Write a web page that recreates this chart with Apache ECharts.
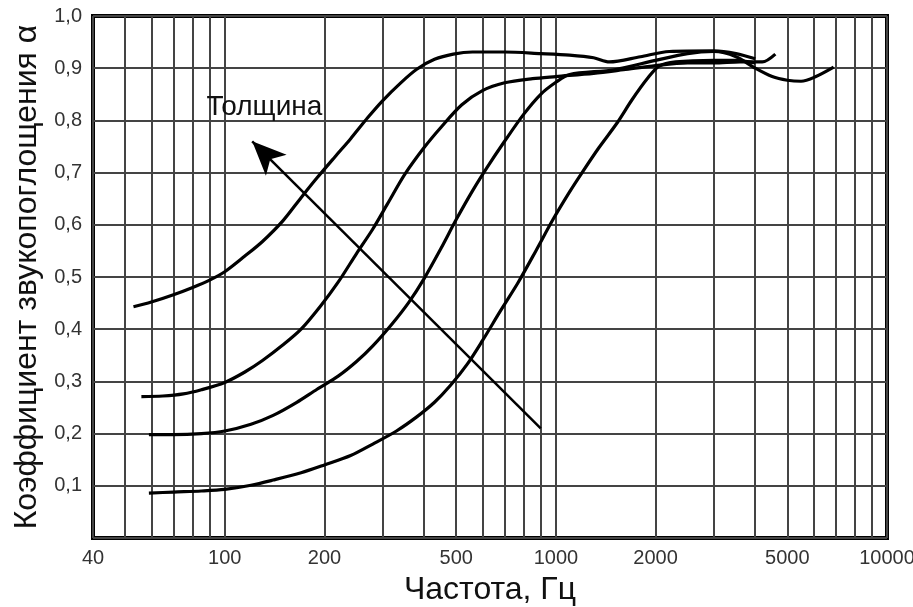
<!DOCTYPE html>
<html>
<head>
<meta charset="utf-8">
<script src="https://cdn.jsdelivr.net/npm/echarts@6/dist/echarts.min.js"></script>
<style>
  html, body { margin: 0; padding: 0; background: #fff; }
  #chart { width: 913px; height: 607px; }
</style>
</head>
<body>
<div id="chart"></div>
<script>
// частоты (Гц) и коэффициенты звукопоглощения
var freqA = [53, 60, 70, 80, 90, 100, 115, 130, 150, 170, 190, 215, 240, 270, 300, 340, 380, 430, 490, 560, 700, 900, 1100, 1300, 1450, 1800, 2200, 3000, 3500, 4000];
var alphaA = [0.443, 0.452, 0.466, 0.48, 0.494, 0.51, 0.54, 0.568, 0.608, 0.652, 0.69, 0.73, 0.765, 0.805, 0.838, 0.872, 0.898, 0.917, 0.927, 0.931, 0.931, 0.928, 0.925, 0.92, 0.912, 0.922, 0.932, 0.933, 0.928, 0.918];

var freqB = [56, 65, 75, 85, 100, 115, 130, 150, 170, 195, 220, 250, 280, 310, 350, 400, 450, 520, 600, 700, 850, 1000, 1300, 1600, 2000, 2500, 3000, 3600, 4200, 4600];
var alphaB = [0.271, 0.272, 0.276, 0.284, 0.298, 0.318, 0.34, 0.37, 0.40, 0.445, 0.49, 0.545, 0.592, 0.64, 0.697, 0.748, 0.787, 0.83, 0.857, 0.872, 0.88, 0.884, 0.89, 0.897, 0.905, 0.91, 0.91, 0.912, 0.912, 0.927];

var freqC = [59, 70, 85, 100, 120, 140, 165, 190, 220, 250, 280, 320, 360, 400, 450, 500, 560, 620, 700, 800, 900, 1000, 1100, 1500, 2000, 2500, 3000, 3500, 4000, 4500, 5000, 5500, 6100, 6900];
var alphaC = [0.198, 0.198, 0.2, 0.205, 0.218, 0.235, 0.26, 0.285, 0.31, 0.338, 0.368, 0.41, 0.452, 0.497, 0.555, 0.61, 0.665, 0.71, 0.76, 0.812, 0.85, 0.873, 0.888, 0.897, 0.915, 0.928, 0.932, 0.922, 0.9, 0.884, 0.877, 0.875, 0.884, 0.902];

var freqD = [59, 70, 85, 100, 120, 140, 170, 200, 240, 280, 330, 380, 430, 480, 540, 600, 680, 770, 870, 980, 1100, 1200, 1350, 1530, 1700, 1900, 2050, 2300, 3000, 3500, 4000];
var alphaD = [0.086, 0.088, 0.09, 0.093, 0.101, 0.111, 0.125, 0.14, 0.158, 0.18, 0.205, 0.232, 0.26, 0.292, 0.333, 0.378, 0.435, 0.49, 0.55, 0.61, 0.663, 0.70, 0.748, 0.795, 0.84, 0.882, 0.904, 0.912, 0.915, 0.915, 0.91];

// подписи и линии сетки по оси частот
var freqLabels = [40, 100, 200, 500, 1000, 2000, 5000, 10000];
var freqGrid = [40, 50, 60, 70, 80, 90, 100, 200, 300, 400, 500, 600, 700, 800, 900,
  1000, 2000, 3000, 4000, 5000, 6000, 7000, 8000, 9000, 10000];

// стрелка "Толщина": [частота, α] хвоста и острия, место подписи
var arrowTail = [900, 0.21];
var arrowHead = [121, 0.76];
var noteAt = [88, 0.825];

var FONT = '"Liberation Sans", Arial, sans-serif';

function zip(xs, ys) {
  return xs.map(function (x, i) { return [x, ys[i]]; });
}

function curve(xs, ys) {
  return {
    type: 'line',
    data: zip(xs, ys),
    showSymbol: false,
    smooth: 0.3,
    silent: true,
    lineStyle: { color: '#000', width: 3.2 },
    z: 5
  };
}

var chart = echarts.init(document.getElementById('chart'));

var seriesA = curve(freqA, alphaA);
seriesA.markLine = {
  silent: true,
  symbol: ['none', 'arrow'],
  symbolSize: [22, 34],
  label: { show: false },
  lineStyle: { color: '#000', width: 2.5, type: 'solid' },
  data: [[{ coord: arrowTail }, { coord: arrowHead }]]
};
seriesA.markPoint = {
  silent: true,
  symbol: 'circle',
  symbolSize: 0,
  data: [{
    coord: noteAt,
    label: {
      show: true, position: 'right', distance: 0,
      formatter: 'Толщина', fontSize: 28, color: '#111', fontFamily: FONT
    }
  }]
};

chart.setOption({
  backgroundColor: '#fff',
  animation: false,
  grid: {
    left: 93, right: 26, top: 16, bottom: 69,
    show: true, borderColor: '#000', borderWidth: 4,
    outerBoundsMode: 'none'
  },
  xAxis: {
    type: 'log',
    logBase: 10,
    min: 40,
    max: 10000,
    axisLine: { show: false },
    axisTick: { show: false, customValues: freqGrid },
    axisLabel: {
      customValues: freqLabels,
      formatter: function (v) { return String(Math.round(v)); },
      fontSize: 20, color: '#333', margin: 10, fontFamily: FONT
    },
    splitLine: { show: true, lineStyle: { color: '#444', width: 2 } },
    name: 'Частота, Гц',
    nameLocation: 'middle',
    nameGap: 36,
    nameTextStyle: { fontSize: 32, color: '#111', fontFamily: FONT }
  },
  yAxis: {
    type: 'value',
    min: 0,
    max: 1,
    interval: 0.1,
    axisLine: { show: false },
    axisTick: { show: false },
    axisLabel: {
      formatter: function (v) { return v === 0 ? '' : v.toFixed(1).replace('.', ','); },
      fontSize: 20, color: '#333', margin: 11, fontFamily: FONT
    },
    splitLine: { show: true, lineStyle: { color: '#444', width: 2 } },
    name: 'Коэффициент звукопоглощения α',
    nameLocation: 'middle',
    nameGap: 50,
    nameTextStyle: { fontSize: 32, color: '#111', fontFamily: FONT }
  },
  series: [
    seriesA,
    curve(freqB, alphaB),
    curve(freqC, alphaC),
    curve(freqD, alphaD)
  ]
});
</script>
</body>
</html>
